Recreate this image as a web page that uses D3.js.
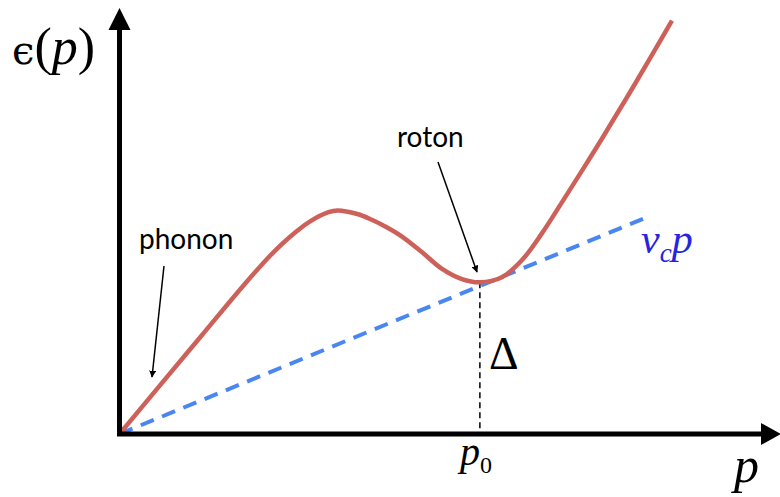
<!DOCTYPE html>
<html>
<head>
<meta charset="utf-8">
<script src="https://cdn.jsdelivr.net/npm/d3@7"></script>
<style>
  body { margin: 0; background: #fff; }
  svg { display: block; }
  .math { font-family: 'Liberation Serif', 'Times New Roman', serif; }
  .eps { font-family: 'DejaVu Serif', serif; }
  .note { font-family: Lato, 'Open Sans', sans-serif; }
</style>
</head>
<body>
<div id="chart"></div>
<script>
// momentum (p0 = 10) and energy values
const pValues = [0, 1.03, 2.28, 3.5, 4.22, 4.75, 5.3, 5.8, 6.05, 6.6, 7.0, 7.4, 7.83, 8.39, 8.94, 9.5, 10.0, 10.61, 11.17, 11.72, 12.28, 12.83, 13.39, 14.31, 15.33];
const epsValues = [0, 1.24, 2.74, 4.2, 5.0, 5.5, 5.92, 6.17, 6.22, 6.12, 5.96, 5.76, 5.5, 5.06, 4.6, 4.31, 4.22, 4.36, 4.84, 5.58, 6.45, 7.32, 8.22, 9.75, 11.5];
// critical velocity line v_c p
const vcLineP = [0, 14.64];
const vc = 0.412;
const p0 = 10;
const delta = 4.22;
const pMax = 18.3;
const epsMax = 11.85;

const width = 780, height = 497;
const x0 = 119.5, y0 = 434;

const svg = d3.select('#chart').append('svg')
  .attr('width', width)
  .attr('height', height);

const x = d3.scaleLinear().domain([0, pMax]).range([x0, 779]);
const y = d3.scaleLinear().domain([0, epsMax]).range([y0, 8]);

// arrow marker for annotations
svg.append('defs').append('marker')
  .attr('id', 'tip')
  .attr('viewBox', '0 0 10 10')
  .attr('refX', 9).attr('refY', 5)
  .attr('markerWidth', 7).attr('markerHeight', 7)
  .attr('markerUnits', 'userSpaceOnUse')
  .attr('orient', 'auto')
  .append('path')
  .attr('d', 'M0,0 L10,5 L0,10 z')
  .attr('fill', '#000');

// dashed v_c p line
svg.append('line')
  .attr('x1', x(vcLineP[0])).attr('y1', y(vc * vcLineP[0]))
  .attr('x2', x(vcLineP[1])).attr('y2', y(vc * vcLineP[1]))
  .attr('stroke', '#4a86f2')
  .attr('stroke-width', 4)
  .attr('stroke-dasharray', '14,9');

// delta guide
svg.append('line')
  .attr('x1', x(p0)).attr('y1', y(delta))
  .attr('x2', x(p0)).attr('y2', y(0))
  .attr('stroke', '#000')
  .attr('stroke-width', 1.5)
  .attr('stroke-dasharray', '6,4');

// dispersion curve
const line = d3.line()
  .x(d => x(d[0]))
  .y(d => y(d[1]))
  .curve(d3.curveCatmullRom.alpha(0.5));

svg.append('path')
  .datum(pValues.map((p, i) => [p, epsValues[i]]))
  .attr('d', line)
  .attr('fill', 'none')
  .attr('stroke', '#cd6159')
  .attr('stroke-width', 4.5);

// axes
svg.append('line')
  .attr('x1', x(0)).attr('y1', y(0))
  .attr('x2', x(0)).attr('y2', y(epsMax) + 20)
  .attr('stroke', '#000').attr('stroke-width', 5);
svg.append('line')
  .attr('x1', x(0) - 2.5).attr('y1', y(0))
  .attr('x2', x(pMax) - 18).attr('y2', y(0))
  .attr('stroke', '#000').attr('stroke-width', 5);
svg.append('path')
  .attr('d', `M${x(0)},${y(epsMax)} L${x(0) - 11},${y(epsMax) + 22} L${x(0) + 11},${y(epsMax) + 22} Z`)
  .attr('fill', '#000');
svg.append('path')
  .attr('d', `M${x(pMax) + 2},${y(0)} L${x(pMax) - 18},${y(0) - 11} L${x(pMax) - 18},${y(0) + 11} Z`)
  .attr('fill', '#000');

// math labels
const epsLabel = svg.append('text')
  .attr('class', 'math')
  .attr('x', 12).attr('y', 64)
  .attr('font-size', 52);
epsLabel.append('tspan').attr('class', 'eps').attr('font-size', 40).text('ϵ');
epsLabel.append('tspan').text('(');
epsLabel.append('tspan').attr('font-style', 'italic').text('p');
epsLabel.append('tspan').text(')');

svg.append('text')
  .attr('class', 'math')
  .attr('x', 734).attr('y', 482)
  .attr('font-style', 'italic')
  .attr('font-size', 50)
  .text('p');

const p0Label = svg.append('text')
  .attr('class', 'math')
  .attr('x', 460).attr('y', 465)
  .attr('font-size', 40);
p0Label.append('tspan').attr('font-style', 'italic').text('p');
p0Label.append('tspan').attr('font-size', 24).attr('dy', 8).text('0');

svg.append('text')
  .attr('class', 'math')
  .attr('x', 489).attr('y', 369)
  .attr('font-size', 46)
  .text('Δ');

const vcLabel = svg.append('text')
  .attr('class', 'math')
  .attr('x', 641).attr('y', 253)
  .attr('font-size', 42)
  .attr('font-style', 'italic')
  .attr('fill', '#2525e0');
vcLabel.append('tspan').text('v');
vcLabel.append('tspan').attr('font-size', 27).attr('dy', 9).text('c');
vcLabel.append('tspan').attr('dy', -9).text('p');

// annotations
svg.append('text')
  .attr('class', 'note')
  .attr('x', 139).attr('y', 249)
  .attr('font-size', 28)
  .attr('fill', '#000')
  .text('phonon');
svg.append('line')
  .attr('x1', 164).attr('y1', 266)
  .attr('x2', 152).attr('y2', 377)
  .attr('stroke', '#000').attr('stroke-width', 1.5)
  .attr('marker-end', 'url(#tip)');

svg.append('text')
  .attr('class', 'note')
  .attr('x', 397).attr('y', 147)
  .attr('font-size', 28)
  .attr('fill', '#000')
  .text('roton');
svg.append('line')
  .attr('x1', 438).attr('y1', 162)
  .attr('x2', 477).attr('y2', 272)
  .attr('stroke', '#000').attr('stroke-width', 1.5)
  .attr('marker-end', 'url(#tip)');
</script>
</body>
</html>
